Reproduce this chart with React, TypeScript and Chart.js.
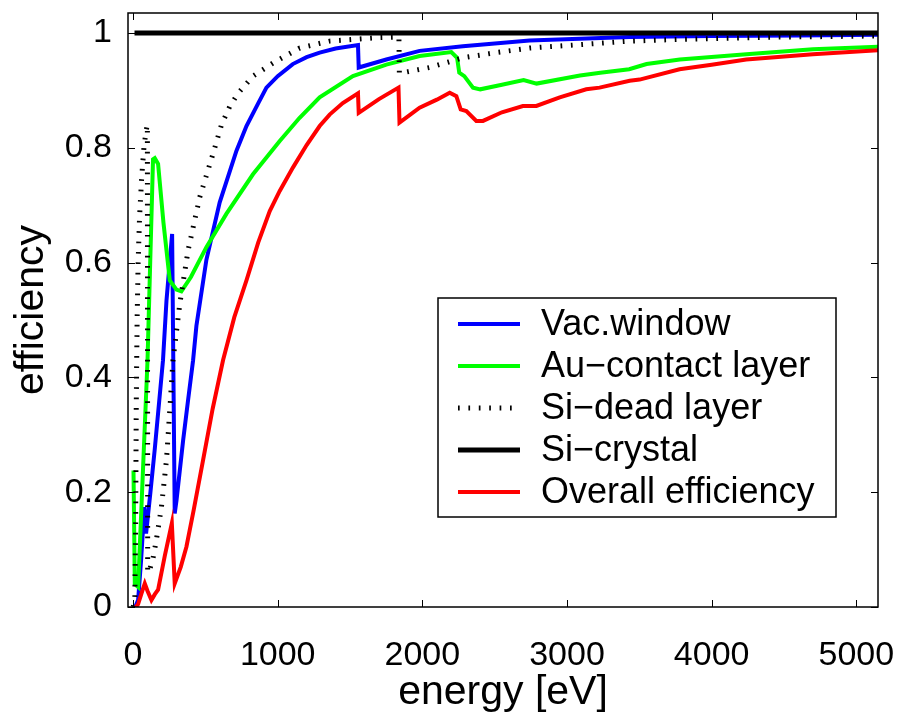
import React, { useEffect, useRef } from 'react';
import { Chart, registerables } from 'chart.js';

Chart.register(...registerables);

const FONT = '"Liberation Sans", Arial, Helvetica, sans-serif';

// Axis ticks
const xTickValues = [0, 1000, 2000, 3000, 4000, 5000];
const yTickValues = [0, 0.2, 0.4, 0.6, 0.8, 1];
const yTickLabels = ['0', '0.2', '0.4', '0.6', '0.8', '1'];

// Series labels
const seriesLabels = ['Vac.window', 'Au\u2212contact layer', 'Si\u2212dead layer', 'Si\u2212crystal', 'Overall efficiency'];

// Vac.window (blue)
const vacEnergy = [15, 35, 55, 78, 90, 120, 150, 207, 231, 270, 288, 300, 346, 380, 415, 438, 507, 599, 715, 784, 864, 922, 1000, 1104, 1200, 1290, 1400, 1555, 1560, 1751, 1981, 2280, 2741, 3433, 4000, 4600, 5150];
const vacEff = [0, 0.012, 0.08, 0.174, 0.128, 0.2, 0.275, 0.43, 0.534, 0.65, 0.163, 0.185, 0.29, 0.36, 0.43, 0.49, 0.605, 0.705, 0.795, 0.838, 0.877, 0.905, 0.925, 0.946, 0.958, 0.966, 0.973, 0.979, 0.94, 0.954, 0.969, 0.977, 0.987, 0.993, 0.995, 0.996, 0.997];

// Au-contact layer (green)
const auEnergy = [3, 12, 35, 100, 138, 150, 173, 210, 254, 300, 334, 400, 507, 645, 829, 1014, 1150, 1290, 1520, 1751, 1981, 2200, 2240, 2255, 2290, 2350, 2400, 2550, 2700, 2790, 3090, 3230, 3430, 3550, 3780, 4240, 4700, 5150];
const auEff = [0.238, 0.04, 0.035, 0.43, 0.78, 0.782, 0.772, 0.67, 0.569, 0.553, 0.55, 0.575, 0.627, 0.685, 0.754, 0.812, 0.852, 0.888, 0.925, 0.945, 0.96, 0.967, 0.957, 0.931, 0.925, 0.905, 0.902, 0.91, 0.918, 0.912, 0.926, 0.931, 0.937, 0.946, 0.954, 0.963, 0.972, 0.976];

// Si-dead layer (dotted black)
const deadEnergy = [0, 12, 18, 22, 28, 35, 45, 60, 75, 90, 99, 101, 115, 138, 161, 196, 231, 254, 276, 300, 323, 380, 461, 553, 611, 668, 726, 829, 968, 1152, 1359, 1693, 1838, 1841, 1866, 2050, 2281, 2511, 2741, 3156, 3433, 3778, 4469, 5150];
const deadEff = [0, 0.01, 0.15, 0.35, 0.5, 0.6, 0.68, 0.75, 0.8, 0.83, 0.84, 0.06, 0.065, 0.085, 0.117, 0.174, 0.256, 0.343, 0.43, 0.48, 0.528, 0.621, 0.714, 0.79, 0.84, 0.872, 0.895, 0.925, 0.948, 0.974, 0.986, 0.992, 0.993, 0.93, 0.931, 0.94, 0.957, 0.966, 0.974, 0.981, 0.986, 0.989, 0.993, 0.995];

// Si-crystal (black)
const crystalEnergy = [10, 5150];
const crystalEff = [1, 1];

// Overall efficiency (red)
const overallEnergy = [20, 35, 60, 81, 100, 127, 150, 173, 220, 268, 288, 330, 369, 420, 484, 550, 622, 700, 784, 865, 945, 1014, 1106, 1200, 1290, 1359, 1450, 1555, 1560, 1700, 1835, 1842, 1981, 2100, 2189, 2235, 2265, 2304, 2373, 2419, 2550, 2695, 2788, 2950, 3133, 3225, 3433, 3502, 3778, 4000, 4239, 4700, 5150];
const overallEff = [0, 0.005, 0.025, 0.041, 0.028, 0.012, 0.022, 0.03, 0.09, 0.146, 0.041, 0.07, 0.105, 0.17, 0.256, 0.345, 0.43, 0.505, 0.569, 0.635, 0.69, 0.725, 0.766, 0.805, 0.838, 0.858, 0.878, 0.895, 0.861, 0.885, 0.905, 0.844, 0.87, 0.884, 0.896, 0.89, 0.867, 0.864, 0.847, 0.847, 0.862, 0.873, 0.873, 0.888, 0.902, 0.905, 0.917, 0.919, 0.937, 0.945, 0.954, 0.963, 0.97];

const toPoints = (xs: number[], ys: number[]) => xs.map((x, i) => ({ x, y: ys[i] }));

const framePlugin = {
  id: 'matlabFrame',
  afterDatasetsDraw(chart: any) {
    const { ctx, chartArea: a, scales } = chart;
    ctx.save();
    ctx.strokeStyle = '#000';
    const len = 7;
    ctx.lineWidth = 1;
    ctx.beginPath();
    scales.x.ticks.forEach((t: any) => {
      const px = Math.round(scales.x.getPixelForValue(t.value)) + 0.5;
      ctx.moveTo(px, a.bottom);
      ctx.lineTo(px, a.bottom - len);
      ctx.moveTo(px, a.top);
      ctx.lineTo(px, a.top + len);
    });
    scales.y.ticks.forEach((t: any) => {
      const py = Math.round(scales.y.getPixelForValue(t.value)) + 0.5;
      ctx.moveTo(a.left, py);
      ctx.lineTo(a.left + len, py);
      ctx.moveTo(a.right, py);
      ctx.lineTo(a.right - len, py);
    });
    ctx.stroke();
    ctx.lineWidth = 1.5;
    ctx.strokeRect(a.left, a.top, a.right - a.left, a.bottom - a.top);
    ctx.restore();
  },
};

const legendPlugin = {
  id: 'boxLegend',
  afterDraw(chart: any) {
    const { ctx, chartArea: a } = chart;
    const boxLeft = a.right - 440;
    const boxTop = a.top + 285;
    const boxW = 398;
    const boxH = 219;
    const rowStart = boxTop + 26;
    const rowGap = 42;
    ctx.save();
    ctx.fillStyle = '#fff';
    ctx.fillRect(boxLeft, boxTop, boxW, boxH);
    ctx.strokeStyle = '#000';
    ctx.lineWidth = 1.5;
    ctx.strokeRect(boxLeft, boxTop, boxW, boxH);
    ctx.font = `36px ${FONT}`;
    ctx.textBaseline = 'middle';
    ctx.textAlign = 'left';
    chart.data.datasets.forEach((ds: any, i: number) => {
      const y = rowStart + i * rowGap;
      ctx.save();
      ctx.strokeStyle = ds.borderColor;
      ctx.lineWidth = ds.borderWidth;
      ctx.setLineDash(ds.borderDash || []);
      ctx.lineCap = 'butt';
      ctx.beginPath();
      ctx.moveTo(boxLeft + 20, y);
      ctx.lineTo(boxLeft + 82, y);
      ctx.stroke();
      ctx.restore();
      ctx.fillStyle = '#000';
      ctx.fillText(ds.label, boxLeft + 103, y + 1);
    });
    ctx.restore();
  },
};

export default function App() {
  const canvasRef = useRef<HTMLCanvasElement | null>(null);

  useEffect(() => {
    const canvas = canvasRef.current;
    if (!canvas) return;
    const chart = new Chart(canvas, {
      type: 'line',
      data: {
        datasets: [
          { label: seriesLabels[0], data: toPoints(vacEnergy, vacEff), borderColor: '#0000ff', borderWidth: 4, pointRadius: 0, tension: 0, order: 5 },
          { label: seriesLabels[1], data: toPoints(auEnergy, auEff), borderColor: '#00ff00', borderWidth: 4, pointRadius: 0, tension: 0, order: 4 },
          { label: seriesLabels[2], data: toPoints(deadEnergy, deadEff), borderColor: '#000000', borderWidth: 5, borderDash: [1.7, 8.7], pointRadius: 0, tension: 0, order: 3 },
          { label: seriesLabels[3], data: toPoints(crystalEnergy, crystalEff), borderColor: '#000000', borderWidth: 5, pointRadius: 0, tension: 0, order: 2 },
          { label: seriesLabels[4], data: toPoints(overallEnergy, overallEff), borderColor: '#ff0000', borderWidth: 4, pointRadius: 0, tension: 0, order: 1 },
        ],
      },
      options: {
        animation: false,
        responsive: true,
        maintainAspectRatio: false,
        layout: { padding: { left: 0, top: 13, right: 24, bottom: 0 } },
        plugins: { legend: { display: false }, tooltip: { enabled: false } },
        scales: {
          x: {
            type: 'linear',
            min: -35,
            max: 5150,
            grid: { display: false },
            border: { display: false },
            afterBuildTicks: (s: any) => { s.ticks = xTickValues.map((value) => ({ value })); },
            afterFit: (s: any) => { s.height = 111; s.paddingLeft = 0; s.paddingRight = 0; },
            ticks: {
              color: '#000',
              padding: 24,
              maxRotation: 0,
              font: { family: FONT, size: 34, lineHeight: 1 },
              callback: (v: any) => String(v),
            },
            title: {
              display: true,
              text: 'energy [eV]',
              color: '#000',
              font: { family: FONT, size: 41, lineHeight: 1 },
              padding: { top: 0, bottom: 5 },
            },
          },
          y: {
            type: 'linear',
            min: 0,
            max: 1.035,
            grid: { display: false },
            border: { display: false },
            afterBuildTicks: (s: any) => { s.ticks = yTickValues.map((value) => ({ value })); },
            afterFit: (s: any) => { s.width = 128; s.paddingTop = 0; s.paddingBottom = 0; },
            ticks: {
              color: '#000',
              padding: 8,
              font: { family: FONT, size: 34, lineHeight: 1 },
              callback: (v: any) => {
                const idx = yTickValues.findIndex((t) => Math.abs(t - Number(v)) < 1e-9);
                return idx >= 0 ? yTickLabels[idx] : '';
              },
            },
            title: {
              display: true,
              text: 'efficiency',
              color: '#000',
              font: { family: FONT, size: 41, lineHeight: 1 },
              padding: { top: 11, bottom: 0 },
            },
          },
        },
      },
      plugins: [framePlugin, legendPlugin],
    });
    return () => chart.destroy();
  }, []);

  return (
    <div style={{ position: 'absolute', left: 0, top: 0, width: 902, height: 718, background: '#fff' }}>
      <canvas ref={canvasRef} />
    </div>
  );
}
